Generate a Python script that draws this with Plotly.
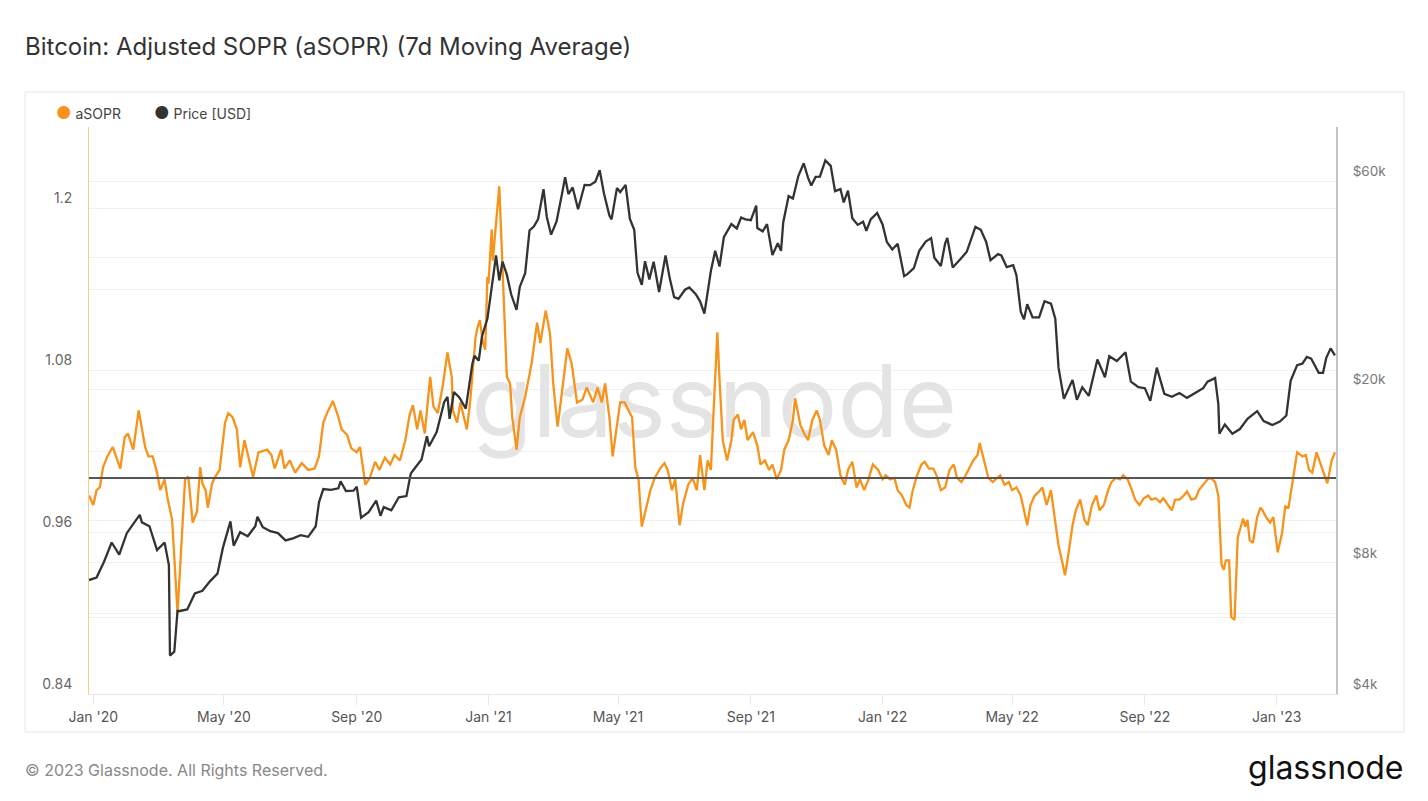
import math
import plotly.graph_objects as go

# ---------------- data ----------------
asopr_dates = [
    "2019-12-28", "2020-01-01", "2020-01-04", "2020-01-07", "2020-01-10", "2020-01-14", "2020-01-19",
    "2020-01-23", "2020-01-26", "2020-01-30", "2020-02-02", "2020-02-07", "2020-02-12", "2020-02-18",
    "2020-02-21", "2020-02-25", "2020-02-29", "2020-03-03", "2020-03-07", "2020-03-10", "2020-03-14",
    "2020-03-19", "2020-03-23", "2020-03-26", "2020-03-29", "2020-04-01", "2020-04-02", "2020-04-06",
    "2020-04-09", "2020-04-11", "2020-04-14", "2020-04-16", "2020-04-20", "2020-04-23", "2020-04-27",
    "2020-05-02", "2020-05-05", "2020-05-09", "2020-05-13", "2020-05-16", "2020-05-20", "2020-05-25",
    "2020-05-28", "2020-06-02", "2020-06-10", "2020-06-14", "2020-06-17", "2020-06-23", "2020-06-26",
    "2020-07-01", "2020-07-06", "2020-07-12", "2020-07-18", "2020-07-24", "2020-07-28", "2020-08-01",
    "2020-08-05", "2020-08-10", "2020-08-15", "2020-08-18", "2020-08-23", "2020-08-27", "2020-09-01",
    "2020-09-04", "2020-09-09", "2020-09-13", "2020-09-18", "2020-09-22", "2020-09-27", "2020-10-02",
    "2020-10-06", "2020-10-11", "2020-10-16", "2020-10-20", "2020-10-23", "2020-10-27", "2020-10-30",
    "2020-11-03", "2020-11-08", "2020-11-11", "2020-11-15", "2020-11-20", "2020-11-24", "2020-11-28",
    "2020-11-29", "2020-12-03", "2020-12-06", "2020-12-12", "2020-12-15", "2020-12-20", "2020-12-22",
    "2020-12-24", "2020-12-27", "2020-12-29", "2020-12-31", "2021-01-01", "2021-01-04", "2021-01-05",
    "2021-01-11", "2021-01-13", "2021-01-16", "2021-01-18", "2021-01-21", "2021-01-23", "2021-01-27",
    "2021-01-30", "2021-02-04", "2021-02-10", "2021-02-15", "2021-02-18", "2021-02-23", "2021-02-27",
    "2021-03-02", "2021-03-06", "2021-03-10", "2021-03-15", "2021-03-19", "2021-03-24", "2021-03-29",
    "2021-04-02", "2021-04-08", "2021-04-12", "2021-04-16", "2021-04-19", "2021-04-23", "2021-04-26",
    "2021-05-03", "2021-05-07", "2021-05-14", "2021-05-17", "2021-05-20", "2021-05-23", "2021-05-31",
    "2021-06-04", "2021-06-09", "2021-06-13", "2021-06-16", "2021-06-20", "2021-06-23", "2021-06-27",
    "2021-06-30", "2021-07-05", "2021-07-09", "2021-07-13", "2021-07-16", "2021-07-20", "2021-07-23",
    "2021-07-26", "2021-07-29", "2021-08-01", "2021-08-03", "2021-08-06", "2021-08-10", "2021-08-14",
    "2021-08-16", "2021-08-20", "2021-08-23", "2021-08-26", "2021-08-29", "2021-09-03", "2021-09-07",
    "2021-09-10", "2021-09-14", "2021-09-18", "2021-09-21", "2021-09-25", "2021-09-29", "2021-10-02",
    "2021-10-06", "2021-10-10", "2021-10-12", "2021-10-17", "2021-10-21", "2021-10-24", "2021-10-28",
    "2021-11-01", "2021-11-04", "2021-11-08", "2021-11-12", "2021-11-15", "2021-11-19", "2021-11-23",
    "2021-11-27", "2021-11-30", "2021-12-04", "2021-12-08", "2021-12-11", "2021-12-15", "2021-12-19",
    "2021-12-23", "2021-12-28", "2022-01-01", "2022-01-04", "2022-01-08", "2022-01-12", "2022-01-15",
    "2022-01-19", "2022-01-23", "2022-01-26", "2022-01-29", "2022-02-02", "2022-02-06", "2022-02-09",
    "2022-02-13", "2022-02-17", "2022-02-20", "2022-02-24", "2022-02-28", "2022-03-04", "2022-03-08",
    "2022-03-11", "2022-03-15", "2022-03-19", "2022-03-22", "2022-03-26", "2022-03-30", "2022-04-01",
    "2022-04-05", "2022-04-09", "2022-04-13", "2022-04-16", "2022-04-20", "2022-04-24", "2022-04-28",
    "2022-05-01", "2022-05-05", "2022-05-09", "2022-05-13", "2022-05-15", "2022-05-18", "2022-05-22",
    "2022-05-26", "2022-05-29", "2022-06-02", "2022-06-06", "2022-06-09", "2022-06-13", "2022-06-17",
    "2022-06-19", "2022-06-22", "2022-06-26", "2022-06-29", "2022-07-03", "2022-07-07", "2022-07-10",
    "2022-07-14", "2022-07-18", "2022-07-21", "2022-07-25", "2022-07-29", "2022-08-01", "2022-08-05",
    "2022-08-09", "2022-08-12", "2022-08-16", "2022-08-20", "2022-08-23", "2022-08-27", "2022-08-31",
    "2022-09-04", "2022-09-07", "2022-09-11", "2022-09-15", "2022-09-18", "2022-09-22", "2022-09-26",
    "2022-09-29", "2022-10-03", "2022-10-07", "2022-10-10", "2022-10-14", "2022-10-18", "2022-10-21",
    "2022-10-25", "2022-10-29", "2022-11-01", "2022-11-05", "2022-11-08", "2022-11-11", "2022-11-13",
    "2022-11-15", "2022-11-18", "2022-11-20", "2022-11-23", "2022-11-26", "2022-12-01", "2022-12-03",
    "2022-12-05", "2022-12-07", "2022-12-10", "2022-12-14", "2022-12-17", "2022-12-19", "2022-12-23",
    "2022-12-26", "2022-12-29", "2023-01-01", "2023-01-02", "2023-01-06", "2023-01-09", "2023-01-12",
    "2023-01-16", "2023-01-20", "2023-01-25", "2023-01-28", "2023-01-31", "2023-02-03", "2023-02-07",
    "2023-02-10", "2023-02-17", "2023-02-21", "2023-02-24",
]
asopr_values = [
    0.987, 0.980, 0.991, 0.993, 1.008, 1.016, 1.023,
    1.013, 1.007, 1.030, 1.033, 1.021, 1.050, 1.023,
    1.016, 1.016, 1.004, 0.991, 0.999, 0.984, 0.969,
    0.900, 0.954, 0.999, 1.001, 0.979, 0.967, 0.975,
    1.008, 0.996, 0.991, 0.978, 0.996, 1.001, 1.006,
    1.041, 1.048, 1.045, 1.036, 1.008, 1.028, 1.011,
    1.001, 1.019, 1.021, 1.017, 1.007, 1.021, 1.007,
    1.013, 1.004, 1.011, 1.006, 1.007, 1.016, 1.041,
    1.049, 1.057, 1.045, 1.036, 1.032, 1.022, 1.019,
    1.023, 0.995, 1.000, 1.012, 1.006, 1.015, 1.010,
    1.017, 1.013, 1.028, 1.047, 1.054, 1.036, 1.050,
    1.033, 1.075, 1.053, 1.048, 1.070, 1.093, 1.075,
    1.050, 1.041, 1.056, 1.036, 1.056, 1.104, 1.112,
    1.117, 1.100, 1.095, 1.149, 1.144, 1.184, 1.161,
    1.216, 1.176, 1.119, 1.075, 1.070, 1.045, 1.021,
    1.045, 1.060, 1.085, 1.115, 1.100, 1.124, 1.107,
    1.070, 1.038, 1.063, 1.096, 1.085, 1.056, 1.058,
    1.067, 1.056, 1.067, 1.056, 1.070, 1.045, 1.016,
    1.056, 1.056, 1.045, 1.008, 0.999, 0.964, 0.991,
    1.000, 1.007, 1.011, 1.006, 0.991, 0.999, 0.965,
    0.980, 0.995, 1.000, 0.991, 1.017, 0.991, 1.013,
    1.006, 1.058, 1.108, 1.073, 1.028, 1.013, 1.028,
    1.043, 1.047, 1.036, 1.043, 1.028, 1.034, 1.024,
    1.010, 1.013, 1.006, 1.010, 0.999, 1.006, 1.021,
    1.028, 1.043, 1.059, 1.039, 1.032, 1.028, 1.043,
    1.050, 1.043, 1.024, 1.017, 1.028, 1.021, 1.002,
    0.995, 1.006, 1.012, 0.993, 0.999, 0.991, 0.999,
    1.010, 1.006, 0.999, 1.002, 0.999, 1.000, 0.991,
    0.987, 0.980, 0.978, 0.991, 1.002, 1.010, 1.012,
    1.007, 1.007, 1.002, 0.991, 0.993, 1.006, 1.010,
    1.000, 0.997, 1.002, 1.007, 1.013, 1.017, 1.026,
    1.013, 1.000, 0.997, 0.999, 1.002, 0.995, 0.997,
    0.991, 0.993, 0.987, 0.973, 0.965, 0.980, 0.987,
    0.990, 0.993, 0.980, 0.991, 0.973, 0.950, 0.936,
    0.928, 0.943, 0.965, 0.976, 0.984, 0.969, 0.965,
    0.980, 0.987, 0.976, 0.980, 0.991, 0.997, 1.000,
    0.999, 1.002, 0.999, 0.991, 0.984, 0.980, 0.985,
    0.987, 0.984, 0.985, 0.982, 0.985, 0.980, 0.976,
    0.984, 0.984, 0.987, 0.990, 0.984, 0.985, 0.991,
    0.995, 0.999, 1.000, 0.997, 0.987, 0.936, 0.932,
    0.939, 0.939, 0.897, 0.895, 0.956, 0.970, 0.964,
    0.969, 0.954, 0.952, 0.971, 0.978, 0.976, 0.970,
    0.967, 0.971, 0.949, 0.945, 0.959, 0.979, 0.978,
    0.999, 1.019, 1.016, 1.017, 1.006, 1.004, 1.019,
    1.012, 0.996, 1.013, 1.019,
]

price_dates = [
    "2019-12-28", "2020-01-04", "2020-01-11", "2020-01-18", "2020-01-25", "2020-02-01", "2020-02-08",
    "2020-02-13", "2020-02-15", "2020-02-22", "2020-02-29", "2020-03-07", "2020-03-11", "2020-03-12",
    "2020-03-16", "2020-03-19", "2020-03-21", "2020-03-28", "2020-04-04", "2020-04-11", "2020-04-18",
    "2020-04-25", "2020-04-30", "2020-05-07", "2020-05-10", "2020-05-16", "2020-05-23", "2020-05-30",
    "2020-06-01", "2020-06-06", "2020-06-13", "2020-06-20", "2020-06-27", "2020-07-04", "2020-07-11",
    "2020-07-18", "2020-07-25", "2020-07-28", "2020-08-01", "2020-08-08", "2020-08-15", "2020-08-17",
    "2020-08-22", "2020-08-29", "2020-09-01", "2020-09-05", "2020-09-12", "2020-09-19", "2020-09-23",
    "2020-09-26", "2020-10-03", "2020-10-10", "2020-10-17", "2020-10-21", "2020-10-24", "2020-10-31",
    "2020-11-05", "2020-11-07", "2020-11-14", "2020-11-21", "2020-11-24", "2020-11-26", "2020-11-30",
    "2020-12-05", "2020-12-11", "2020-12-17", "2020-12-19", "2020-12-23", "2020-12-26", "2020-12-31",
    "2021-01-03", "2021-01-08", "2021-01-11", "2021-01-14", "2021-01-18", "2021-01-22", "2021-01-27",
    "2021-01-30", "2021-02-04", "2021-02-08", "2021-02-12", "2021-02-16", "2021-02-21", "2021-02-24",
    "2021-02-28", "2021-03-05", "2021-03-10", "2021-03-13", "2021-03-16", "2021-03-20", "2021-03-25",
    "2021-03-31", "2021-04-05", "2021-04-10", "2021-04-14", "2021-04-18", "2021-04-23", "2021-04-25",
    "2021-04-30", "2021-05-03", "2021-05-08", "2021-05-12", "2021-05-16", "2021-05-19", "2021-05-23",
    "2021-05-26", "2021-05-30", "2021-06-03", "2021-06-08", "2021-06-14", "2021-06-18", "2021-06-22",
    "2021-06-26", "2021-07-02", "2021-07-06", "2021-07-12", "2021-07-16", "2021-07-20", "2021-07-26",
    "2021-07-30", "2021-08-03", "2021-08-07", "2021-08-14", "2021-08-19", "2021-08-23", "2021-08-27",
    "2021-09-01", "2021-09-06", "2021-09-07", "2021-09-12", "2021-09-16", "2021-09-21", "2021-09-26",
    "2021-09-29", "2021-10-01", "2021-10-06", "2021-10-10", "2021-10-15", "2021-10-20", "2021-10-24",
    "2021-10-27", "2021-10-31", "2021-11-04", "2021-11-09", "2021-11-14", "2021-11-18", "2021-11-23",
    "2021-11-26", "2021-11-30", "2021-12-04", "2021-12-09", "2021-12-14", "2021-12-17", "2021-12-21",
    "2021-12-27", "2022-01-01", "2022-01-05", "2022-01-10", "2022-01-15", "2022-01-21", "2022-01-24",
    "2022-01-30", "2022-02-04", "2022-02-10", "2022-02-15", "2022-02-18", "2022-02-24", "2022-02-28",
    "2022-03-02", "2022-03-07", "2022-03-14", "2022-03-20", "2022-03-28", "2022-04-02", "2022-04-07",
    "2022-04-11", "2022-04-18", "2022-04-21", "2022-04-26", "2022-05-02", "2022-05-05", "2022-05-09",
    "2022-05-12", "2022-05-15", "2022-05-20", "2022-05-26", "2022-05-31", "2022-06-06", "2022-06-10",
    "2022-06-13", "2022-06-18", "2022-06-22", "2022-06-26", "2022-06-30", "2022-07-05", "2022-07-11",
    "2022-07-19", "2022-07-26", "2022-07-30", "2022-08-06", "2022-08-14", "2022-08-19", "2022-08-26",
    "2022-09-01", "2022-09-06", "2022-09-12", "2022-09-19", "2022-09-26", "2022-10-03", "2022-10-10",
    "2022-10-17", "2022-10-25", "2022-10-29", "2022-11-05", "2022-11-08", "2022-11-09", "2022-11-14",
    "2022-11-21", "2022-11-28", "2022-12-05", "2022-12-14", "2022-12-20", "2022-12-28", "2023-01-04",
    "2023-01-10", "2023-01-14", "2023-01-20", "2023-01-25", "2023-01-29", "2023-02-02", "2023-02-09",
    "2023-02-13", "2023-02-16", "2023-02-20", "2023-02-24",
]
price_values = [
    7300, 7400, 8050, 8900, 8350, 9350, 9900,
    10300, 9900, 9700, 8550, 8900, 7900, 4900,
    5000, 6200, 6200, 6250, 6800, 6900, 7250,
    7550, 8650, 9950, 8750, 9400, 9200, 9700,
    10200, 9650, 9450, 9350, 9000, 9100, 9250,
    9170, 9700, 11000, 11800, 11750, 11850, 12300,
    11680, 11700, 11950, 10150, 10450, 11100, 10250,
    10730, 10550, 11300, 11370, 12800, 13100, 13800,
    15600, 14800, 15950, 18700, 19200, 17100, 19700,
    19150, 18050, 22800, 23850, 23250, 26450, 29000,
    32800, 40500, 35500, 39200, 36600, 33000, 30400,
    34300, 36900, 46200, 47200, 49100, 57500, 49700,
    45200, 48400, 55900, 61200, 56000, 58000, 51700,
    58800, 58700, 59800, 63500, 56200, 50000, 49000,
    57800, 56600, 58800, 49100, 46400, 37000, 34700,
    39300, 35700, 39200, 33400, 40500, 35800, 32500,
    32200, 33800, 34200, 33000, 31800, 29800, 37300,
    41500, 38200, 44600, 47800, 46700, 49500, 49000,
    48800, 52700, 46800, 46000, 47800, 40600, 43200,
    41500, 48200, 55400, 54700, 61600, 65900, 61000,
    58600, 61300, 61400, 66900, 65000, 56900, 57500,
    53600, 57000, 49300, 47600, 48400, 46100, 49000,
    50700, 47700, 43500, 41800, 43100, 36300, 36700,
    37900, 41500, 43600, 44400, 40000, 38300, 43200,
    44400, 38000, 39700, 41300, 47100, 46400, 43500,
    39500, 40800, 40500, 38100, 38500, 36500, 30100,
    28900, 31300, 29200, 29200, 31800, 31400, 29000,
    22400, 19000, 19900, 21000, 18900, 20200, 19300,
    23400, 21300, 23800, 23200, 24300, 20800, 20200,
    20100, 18800, 22400, 19500, 19200, 19600, 19100,
    19550, 20100, 20800, 21200, 18500, 15800, 16600,
    15800, 16200, 17100, 17800, 16900, 16550, 16850,
    17400, 20900, 22700, 22900, 23700, 23500, 21800,
    21800, 23600, 24800, 23900,
]

asopr_ticks = [0.84, 0.90, 0.96, 1.02, 1.08, 1.14, 1.20, 1.26]
asopr_ticktext = ["0.84", "", "0.96", "", "1.08", "", "1.2", ""]
price_ticks = [4000, 6000, 8000, 10000, 20000, 40000, 60000]
price_ticktext = ["$4k", "", "$8k", "", "$20k", "", "$60k"]

# ---------------- layout helpers ----------------
# The page body has an 8px default margin, so figure coords = page coords - 8.
OFF = 8
W, H = 1428 - OFF, 801 - OFF
L, R, T, B = 89 - OFF, 1336 - OFF, 127 - OFF, 694 - OFF
FONT = "Inter, 'Open Sans', sans-serif"


def px(x):
    """page pixel x -> paper fraction"""
    return (x - OFF - L) / (R - L)


def py(y):
    """page pixel y -> paper fraction"""
    return (B - (y - OFF)) / (B - T)


fig = go.Figure()

# watermark (behind the lines)
fig.add_trace(go.Scatter(
    x=["2021-07-29"], y=[1.049], mode="text", text=["glassnode"],
    textfont=dict(size=100, color="#e4e4e4", family=FONT),
    hoverinfo="skip", showlegend=False, yaxis="y",
))

fig.add_trace(go.Scatter(
    x=asopr_dates, y=asopr_values, mode="lines", name="aSOPR",
    line=dict(color="#f7931a", width=2.3), yaxis="y", showlegend=False,
))
fig.add_trace(go.Scatter(
    x=price_dates, y=price_values, mode="lines", name="Price [USD]",
    line=dict(color="#333333", width=2.3), yaxis="y2", showlegend=False,
))

fig.update_layout(
    width=W, height=H,
    margin=dict(l=L, r=W - R, t=T, b=H - B, pad=0),
    paper_bgcolor="white", plot_bgcolor="white",
    font=dict(family=FONT, color="#555"),
    showlegend=False,
    xaxis=dict(
        type="date", range=["2019-12-28", "2023-02-25"],
        tick0="2020-01-01", dtick="M4", tickformat="%b '%y",
        ticks="outside", ticklen=10, tickcolor="#e8e8e8", tickwidth=1,
        showgrid=False, showline=True, linecolor="#e6e6e6", linewidth=1,
        tickfont=dict(size=14, color="#555"), zeroline=False,
    ),
    yaxis=dict(
        range=[0.84, 1.26], tickvals=asopr_ticks, ticktext=asopr_ticktext,
        showgrid=True, gridcolor="#f0f0f0", gridwidth=1,
        showline=True, linecolor="#fcc88c", linewidth=1,
        ticks="", tickfont=dict(size=14, color="#666"),
        ticklabelposition="outside top", ticklabelstandoff=13, zeroline=False,
    ),
    yaxis2=dict(
        type="log", overlaying="y", side="right",
        range=[math.log10(4000), math.log10(79800)],
        tickvals=price_ticks, ticktext=price_ticktext,
        showgrid=True, gridcolor="#f0f0f0", gridwidth=1,
        showline=True, linecolor="#c4c4c4", linewidth=2,
        ticks="", tickfont=dict(size=13.5, color="#777"),
        ticklabelposition="outside top", ticklabelstandoff=12, zeroline=False,
    ),
)

# outer frame and the 1.0 reference line
fig.add_shape(type="rect", xref="paper", yref="paper",
              x0=px(25), x1=px(1404), y0=py(732), y1=py(92),
              line=dict(color="#e6e6e6", width=1), layer="below")
fig.add_shape(type="line", xref="paper", yref="y", x0=0, x1=1, y0=1.0, y1=1.0,
              line=dict(color="#555555", width=2), layer="above")

annos = [
    dict(x=px(23), y=py(46), text="Bitcoin: Adjusted SOPR (aSOPR) (7d Moving Average)",
         font=dict(size=24, color="#333", family=FONT), xanchor="left"),
    dict(x=px(54), y=py(113), text='<span style="color:#f7931a;font-size:17px">●</span> aSOPR',
         font=dict(size=14, color="#444", family=FONT), xanchor="left"),
    dict(x=px(152), y=py(113), text='<span style="color:#333333;font-size:17px">●</span> Price [USD]',
         font=dict(size=14, color="#444", family=FONT), xanchor="left"),
    dict(x=px(23), y=py(770), text="© 2023 Glassnode. All Rights Reserved.",
         font=dict(size=16, color="#888", family=FONT), xanchor="left"),
    dict(x=px(1405), y=py(768), text="glassnode",
         font=dict(size=32, color="#111", family=FONT), xanchor="right"),
]
for a in annos:
    fig.add_annotation(xref="paper", yref="paper", showarrow=False, yanchor="middle", **a)

fig.write_html("out.html")
